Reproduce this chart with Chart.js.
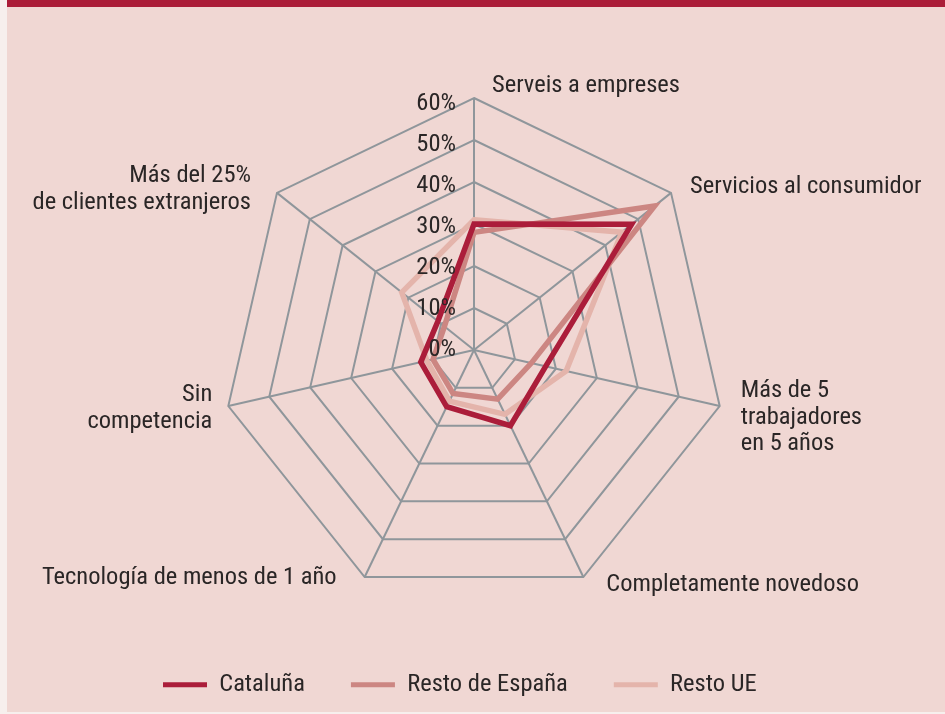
<!DOCTYPE html>
<html lang="es">
<head>
  <meta charset="UTF-8">
  <title>Radar</title>
  <script src="https://cdn.jsdelivr.net/npm/chart.js"></script>
  <style>
    html, body {
      margin: 0;
      padding: 0;
      width: 945px;
      height: 714px;
      overflow: hidden;
      background: #f7efed;
    }
    .panel {
      position: absolute;
      left: 7px;
      top: 0;
      right: 0;
      bottom: 2px;
      background: #f0d7d3;
      border-top: 7px solid #ab1c38;
    }
    #radar {
      position: absolute;
      left: 0;
      top: 0;
    }
  </style>
</head>
<body>
  <div class="panel"></div>
  <canvas id="radar" width="945" height="714"></canvas>
  <script>
    // categories (multi-line labels) and series
    const categories = [
      ['Serveis a empreses'],
      ['Servicios al consumidor'],
      ['Más de 5', 'trabajadores', 'en 5 años'],
      ['Completamente novedoso'],
      ['Tecnología de menos de 1 año'],
      ['Sin', 'competencia'],
      ['Más del 25%', 'de clientes extranjeros']
    ];
    const cataluna = [30, 48, 17.5, 20, 15, 13, 11];
    const restoEspana = [28, 55, 14, 13, 11.5, 10, 9];
    const restoUE = [31, 45, 22.5, 17, 13.5, 11.5, 22];
    const tickValues = [0, 10, 20, 30, 40, 50, 60];
    const tickLabels = ['0%', '10%', '20%', '30%', '40%', '50%', '60%'];

    const textColor = '#2a2626';
    const gridColor = '#8f969b';

    // pick the narrowest installed sans face, then size it to the reference width
    function hasFont(name) {
      const c = document.createElement('canvas').getContext('2d');
      const s = 'Serveis a empreses 60%';
      c.font = '40px monospace';
      const a = c.measureText(s).width;
      c.font = '40px "' + name + '", monospace';
      return c.measureText(s).width !== a;
    }
    const candidates = ['Liberation Sans Narrow', 'Roboto Condensed', 'Open Sans Condensed', 'DejaVu Sans Condensed'];
    const found = candidates.find(hasFont);
    const FONT = (found ? '"' + found + '", ' : '') + '"Liberation Sans", sans-serif';
    const probe = document.createElement('canvas').getContext('2d');
    probe.font = '26px ' + FONT;
    let fs = 26 * 187 / probe.measureText('Serveis a empreses').width;
    fs = Math.round(Math.min(27, Math.max(20, fs)) * 2) / 2;

    // legend text centred near y=685 and starting at x=163; radar centre (474,350), radius 252
    const legendPad = 46;
    const bottomPad = Math.round(19 - fs / 2);
    const spacer = 111 - bottomPad - fs - legendPad - 10;
    const leftPad = 163 - legendPad;
    const rightPad = 945 - leftPad - 2 * (474 - leftPad);

    // where each category label sits relative to its outer vertex
    const labelOffsets = [
      { dx: 18, dy: -12, align: 'left' },
      { dx: 19, dy: -6, align: 'left' },
      { dx: 21, dy: -15, align: 'left' },
      { dx: 23, dy: 8, align: 'left' },
      { dx: -28, dy: 1, align: 'right' },
      { dx: -16, dy: -11, align: 'right' },
      { dx: -26, dy: -17, align: 'right' }
    ];

    const labelPlugin = {
      id: 'customLabels',
      afterDraw(chart) {
        const r = chart.scales.r;
        const ctx = chart.ctx;
        ctx.save();
        ctx.font = fs + 'px ' + FONT;
        ctx.fillStyle = textColor;
        ctx.textBaseline = 'middle';

        // tick labels left of the vertical axis
        ctx.textAlign = 'right';
        tickValues.forEach((v, i) => {
          const d = r.getDistanceFromCenterForValue(v);
          ctx.fillText(tickLabels[i], r.xCenter - 18, r.yCenter - d * 0.975);
        });

        // category labels
        categories.forEach((lines, i) => {
          const p = r.getPointPosition(i, r.drawingArea);
          const o = labelOffsets[i];
          ctx.textAlign = o.align;
          lines.forEach((line, k) => {
            ctx.fillText(line, p.x + o.dx, p.y + o.dy + k * 26.5);
          });
        });
        ctx.restore();
      }
    };

    function series(label, data, color) {
      return {
        label: label,
        data: data,
        borderColor: color,
        backgroundColor: color,
        borderWidth: 5.5,
        pointRadius: 0,
        pointHoverRadius: 0,
        fill: false,
        tension: 0
      };
    }

    new Chart(document.getElementById('radar'), {
      type: 'radar',
      data: {
        labels: categories,
        datasets: [
          series('Cataluña', cataluna, '#ab1d3a'),
          series('Resto de España', restoEspana, '#cc8682'),
          series('Resto UE', restoUE, '#e4b4ab')
        ]
      },
      options: {
        responsive: false,
        animation: false,
        layout: {
          padding: { left: leftPad, right: rightPad, top: 98, bottom: bottomPad }
        },
        plugins: {
          tooltip: { enabled: false },
          legend: {
            position: 'bottom',
            align: 'start',
            title: {
              display: true,
              text: ' ',
              padding: 0,
              font: { size: 10, lineHeight: spacer + 'px' }
            },
            labels: {
              boxWidth: 44,
              boxHeight: 5,
              padding: legendPad,
              color: textColor,
              font: { family: FONT, size: fs },
              generateLabels(chart) {
                const items = Chart.defaults.plugins.legend.labels.generateLabels(chart);
                items.forEach(it => { it.lineWidth = 0; });
                return items;
              }
            }
          }
        },
        scales: {
          r: {
            min: 0,
            max: 60,
            ticks: { display: false, stepSize: 10 },
            grid: { color: gridColor, lineWidth: 2 },
            angleLines: { color: gridColor, lineWidth: 2 },
            pointLabels: { display: false }
          }
        }
      },
      plugins: [labelPlugin]
    });
  </script>
</body>
</html>
